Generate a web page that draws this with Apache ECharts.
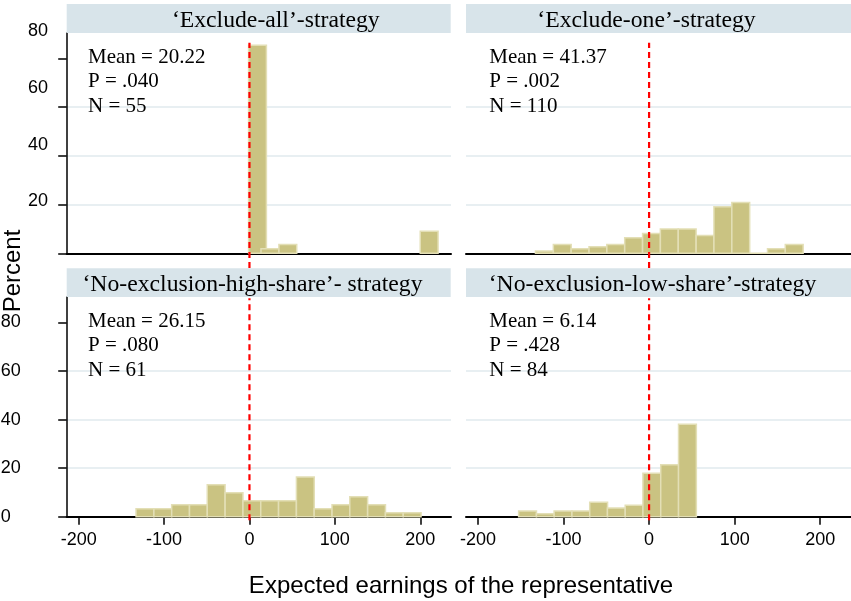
<!DOCTYPE html>
<html>
<head>
<meta charset="utf-8">
<script src="https://cdn.jsdelivr.net/npm/echarts@6/dist/echarts.min.js"></script>
<style>
html, body { margin: 0; padding: 0; background: #fff; }
#chart { width: 851px; height: 601px; }
</style>
</head>
<body>
<div id="chart"></div>
<script>
// panel titles and the stats printed in each panel
var panelTitles = ['‘Exclude-all’-strategy', '‘Exclude-one’-strategy',
  '‘No-exclusion-high-share’- strategy', '‘No-exclusion-low-share’-strategy'];
var panelMeans = ['20.22', '41.37', '26.15', '6.14'];
var panelP = ['.040', '.002', '.080', '.428'];
var panelN = ['55', '110', '61', '84'];

// histogram bins: left edge (expected earnings) and height (percent)
var binWidth = 20.86;
var allStart = [-1, 13.5, 34.5, 200];
var allPct = [85.45, 1.82, 3.64, 9.09];
var oneStart = [-132.8, -111.9, -91.1, -70.2, -49.4, -28.5, -7.6, 13.2, 34.1, 55.0, 75.8, 96.7, 117.5, 138.4, 159.2];
var onePct = [0.91, 3.64, 1.82, 2.73, 3.64, 6.36, 8.18, 10.0, 10.0, 7.27, 19.09, 20.91, 0, 1.82, 3.64];
var highStart = [-132.8, -111.9, -91.1, -70.2, -49.4, -28.5, -7.6, 13.2, 34.1, 55.0, 75.8, 96.7, 117.5, 138.4, 159.2, 180.1];
var highPct = [3.28, 3.28, 4.92, 4.92, 13.11, 9.84, 6.56, 6.56, 6.56, 16.39, 3.28, 4.92, 8.2, 4.92, 1.64, 1.64];
var lowStart = [-152.5, -131.7, -111.0, -90.2, -69.4, -48.7, -27.9, -7.2, 13.6, 34.4];
var lowPct = [2.38, 1.19, 2.38, 2.38, 5.95, 3.57, 4.76, 17.86, 21.43, 38.1];

var xTicks = [-200, -100, 0, 100, 200];
var yTicks = [0, 20, 40, 60, 80];
// dashed reference line at zero earnings, with its vertical reach per row
var refX = 0;
var refTopRow = [-6, 86.5];
var refBottomRow = [-1.5, 90];

var barFill = '#cac382';
var barEdge = '#e3dfb6';
var gridColor = '#e8eff2';
var stripColor = '#d8e4ea';
var serif = 'Liberation Serif';
var sans = 'Liberation Sans';

function binData(starts, pcts) {
  return starts.map(function (s, i) { return [s, s + binWidth, pcts[i]]; });
}

function renderBin(params, api) {
  var p0 = api.coord([api.value(0), 0]);
  var p1 = api.coord([api.value(1), api.value(2)]);
  return {
    type: 'rect',
    shape: { x: p0[0], y: p1[1], width: p1[0] - p0[0], height: p0[1] - p1[1] },
    style: { fill: barFill, stroke: barEdge, lineWidth: 1.5 }
  };
}

var chart = echarts.init(document.getElementById('chart'));

var grids = [
  { left: 66.7, top: 33, width: 384.3, height: 220.3 },
  { left: 466, top: 33, width: 385, height: 220.3 },
  { left: 66.7, top: 297, width: 384.3, height: 219.7 },
  { left: 466, top: 297, width: 385, height: 219.7 },
  // only carries the y labels of the top-left panel
  { left: 66.7, top: 31.2, width: 10, height: 227.1 }
];
grids.forEach(function (g) { g.outerBoundsMode = 'none'; g.containLabel = false; });

var xAxes = [];
var yAxes = [];
for (var i = 0; i < 4; i++) {
  var bottomRow = i >= 2;
  xAxes.push({
    gridIndex: i, type: 'value', min: -214, max: 236,
    axisLine: { show: true, onZero: false, lineStyle: { color: '#000', width: 2 } },
    axisTick: { show: bottomRow, customValues: xTicks, length: 8, lineStyle: { color: '#000', width: 1.5 } },
    axisLabel: { show: bottomRow, customValues: xTicks, fontFamily: sans, fontSize: 18, color: '#000', margin: 14 },
    splitLine: { show: false }
  });
  var leftCol = i % 2 === 0;
  yAxes.push({
    gridIndex: i, type: 'value', min: 0, max: 90.5, interval: 20,
    axisLine: { show: leftCol, onZero: false, lineStyle: { color: '#000', width: 1.5 } },
    axisTick: { show: leftCol, customValues: yTicks, length: 8.5, lineStyle: { color: '#000', width: 1.5 } },
    axisLabel: {
      show: i === 2, customValues: yTicks, align: 'left', margin: 66,
      fontFamily: sans, fontSize: 18, color: '#000', padding: [0, 0, 7, 0]
    },
    splitLine: { show: true, showMinLine: false, showMaxLine: false, lineStyle: { color: gridColor, width: 2 } }
  });
}
xAxes.push({ gridIndex: 4, type: 'value', show: false, min: 0, max: 1 });
yAxes.push({
  gridIndex: 4, type: 'value', min: 0, max: 80, interval: 20,
  axisLine: { show: false }, axisTick: { show: false }, splitLine: { show: false },
  axisLabel: {
    margin: 18.7, fontFamily: sans, fontSize: 18, color: '#000',
    formatter: function (v) { return v === 0 ? '' : String(v); }
  }
});

var panels = [binData(allStart, allPct), binData(oneStart, onePct), binData(highStart, highPct), binData(lowStart, lowPct)];
var series = [];
panels.forEach(function (d, i) {
  series.push({
    type: 'custom', xAxisIndex: i, yAxisIndex: i, renderItem: renderBin,
    encode: { x: [0, 1], y: 2 }, data: d, z: 2, silent: true
  });
  var reach = i < 2 ? refTopRow : refBottomRow;
  series.push({
    type: 'line', xAxisIndex: i, yAxisIndex: i, clip: false, symbol: 'none', z: 3, silent: true,
    data: [[refX, reach[0]], [refX, reach[1]]],
    lineStyle: { color: '#ff0000', width: 2.2, type: [6, 4] }
  });
});

// strips, titles, stats, axis names
var stripBoxes = [[66.7, 4, 384, 29], [466, 4, 385, 29], [66.7, 268.3, 384, 28.7], [466, 268.3, 385, 28.7]];
var titleX = [275.8, 646.5, 252.5, 652.5];
var titleY = [20.3, 20.3, 284.3, 284.3];
var statX = [88, 489.3, 88, 489.3];
var statY = [57, 57, 321.3, 321.3];
var graphics = [];
for (var k = 0; k < 4; k++) {
  var b = stripBoxes[k];
  graphics.push({ type: 'rect', shape: { x: b[0], y: b[1], width: b[2], height: b[3] }, style: { fill: stripColor }, z: 1 });
  graphics.push({
    type: 'text', x: titleX[k], y: titleY[k], z: 10,
    style: { text: panelTitles[k], font: '23.7px "' + serif + '"', fill: '#000', align: 'center', verticalAlign: 'middle' }
  });
  var lines = ['Mean = ' + panelMeans[k], 'P = ' + panelP[k], 'N = ' + panelN[k]];
  lines.forEach(function (t, j) {
    graphics.push({
      type: 'text', x: statX[k], y: statY[k] + j * 24.6, z: 10,
      style: { text: t, font: '21px "' + serif + '"', fill: '#000', align: 'left', verticalAlign: 'middle' }
    });
  });
}
graphics.push({
  type: 'text', x: 461, y: 586, z: 10,
  style: { text: 'Expected earnings of the representative', font: '24px "' + sans + '"', fill: '#000', align: 'center', verticalAlign: 'middle' }
});
graphics.push({
  type: 'text', x: 13.7, y: 271, rotation: Math.PI / 2, z: 10,
  style: { text: 'Percent', font: '24px "' + sans + '"', fill: '#000', align: 'center', verticalAlign: 'middle' }
});

chart.setOption({
  animation: false,
  backgroundColor: '#fff',
  grid: grids,
  xAxis: xAxes,
  yAxis: yAxes,
  series: series,
  graphic: graphics
});
</script>
</body>
</html>
